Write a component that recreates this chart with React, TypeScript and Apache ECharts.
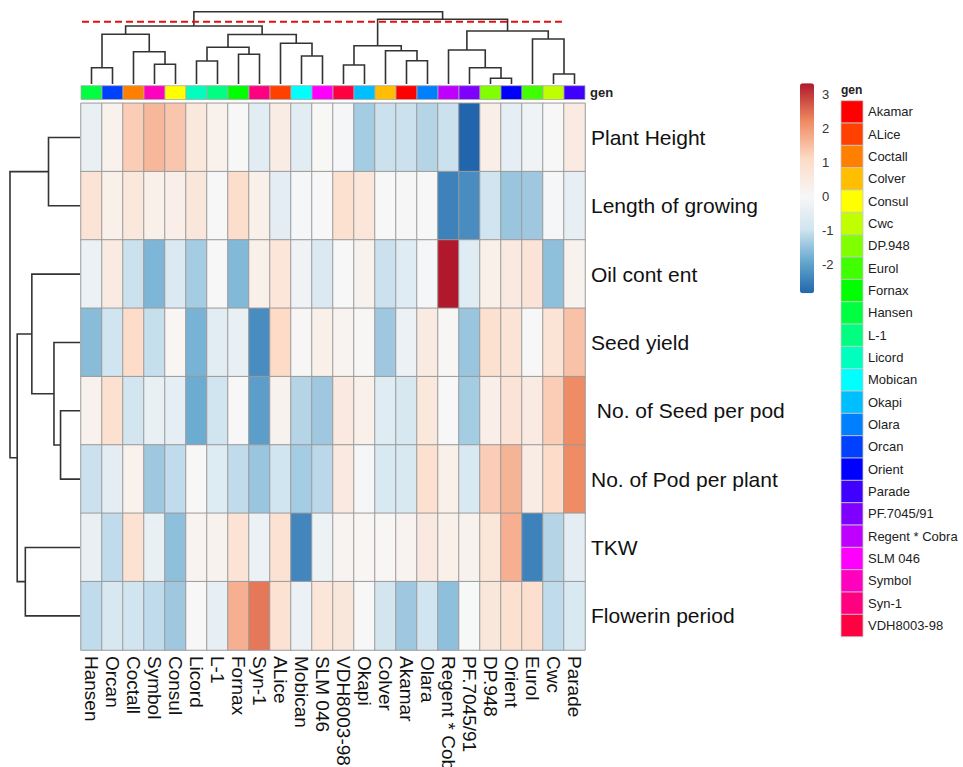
import React, { useEffect, useRef } from "react";
import * as echarts from "echarts";

// ---------- data ----------
const GENOTYPES = [
  "Hansen", "Orcan", "Coctall", "Symbol", "Consul", "Licord", "L-1", "Fornax",
  "Syn-1", "ALice", "Mobican", "SLM 046", "VDH8003-98", "Okapi", "Colver", "Akamar",
  "Olara", "Regent * Cobra", "PF.7045/91", "DP.948", "Orient", "Eurol", "Cwc", "Parade",
];
const TRAITS = [
  "Plant Height", "Length of growing", "Oil cont ent", "Seed yield",
  "\u00a0No. of Seed per pod", "No. of Pod per plant", "TKW", "Flowerin period",
];

const PLANT_HEIGHT = [-0.35, 0.25, 1.3, 1.6, 1.4, 0.6, 0.25, 0.0, -0.55, 0.45, -0.55, 0.02, -0.05, -1.35, -1.0, -1.0, -1.2, -1.0, -2.85, 0.35, -0.45, -0.2, 0.0, 0.5];
const LENGTH_OF_GROWING = [0.8, 0.3, 0.6, 0.3, 0.35, 0.65, 0.0, 1.0, 0.3, -0.5, -0.05, 0.0, 0.9, 0.7, 0.0, -0.03, 0.0, -2.45, -2.3, -0.95, -1.45, -1.4, -0.05, -0.4];
const OIL_CONTENT = [-0.3, 0.5, -1.0, -1.7, -0.7, -1.35, 0.0, -1.65, 0.3, 0.7, -0.2, -0.7, 0.0, 0.2, -1.0, -0.6, -0.05, 3.34, -0.6, 0.3, 0.55, 0.75, -1.55, 0.2];
const SEED_YIELD = [-1.6, -0.95, 1.05, -1.05, 0.1, -1.75, -0.55, -0.35, -2.3, 1.1, 0.05, 0.3, 0.15, 0.05, -1.4, -0.3, 0.5, 0.05, -1.45, 0.9, 0.8, 0.0, 0.8, 1.45];
const SEED_PER_POD = [0.25, 0.9, -0.9, -0.35, -0.45, -1.85, -0.95, 0.0, -2.05, 0.2, -1.2, -1.4, 0.55, 0.3, -0.6, -0.8, 0.6, 0.0, -1.35, 0.35, 0.75, 0.5, 1.3, 2.2];
const POD_PER_PLANT = [-1.0, -0.5, 0.25, -1.4, -1.1, 0.0, -0.65, -1.1, -1.45, -0.95, -1.35, -1.15, 0.55, -0.05, -0.75, -0.75, 0.9, 0.3, -0.75, 1.3, 1.65, 0.45, 1.05, 2.2];
const TKW = [-0.35, -1.1, 0.85, -0.35, -1.55, 0.15, 0.2, 0.8, -0.3, 0.85, -2.4, -0.25, 0.15, 0.1, 0.05, 0.15, 0.55, 0.3, 0.2, 0.7, 1.7, -2.45, -1.2, -0.5];
const FLOWERING = [-1.1, -0.8, -0.95, -1.1, -1.4, 0.0, -0.4, 1.7, 2.4, 0.85, -0.3, 0.7, 0.65, 0.0, -0.9, -1.4, -0.95, -1.55, -0.02, 0.65, 0.9, 0.95, -1.1, -0.75];

const ROW_VALUES = [PLANT_HEIGHT, LENGTH_OF_GROWING, OIL_CONTENT, SEED_YIELD, SEED_PER_POD, POD_PER_PLANT, TKW, FLOWERING];

// hclust-like merges: negative = leaf position (1-based), positive = earlier merge (1-based)
const COL_MERGES = [
  [-1, -2, 1.63], [-4, -5, 1.97], [-3, 2, 3.23], [1, 3, 4.97],
  [-6, -7, 2.3], [-8, -9, 2.97], [5, 6, 3.67], [-11, -12, 2.8],
  [-10, 8, 4.07], [7, 9, 4.95], [4, 10, 5.8], [-13, -14, 1.9],
  [-16, -17, 2.33], [-15, 13, 3.33], [12, 14, 3.83], [-20, -21, 0.57],
  [-19, 16, 1.63], [-18, 17, 3.4], [-23, -24, 1.0], [-22, 19, 4.5],
  [18, 20, 5.3], [15, 21, 6.47], [11, 22, 7.23],
];
const COL_TREE_MAX = 7.23;
const CUT_HEIGHT = 6.23;
const CUT_EXTENT = [-1.0, 22.9];

const ROW_MERGES = [
  [-5, -6, 2.78], [-4, 1, 3.72], [-3, 2, 6.88], [-7, -8, 7.81],
  [3, 4, 8.97], [-1, -2, 4.5], [6, 5, 10.0],
];
const ROW_TREE_MAX = 10;

const LEGEND_GEN = [
  "Akamar", "ALice", "Coctall", "Colver", "Consul", "Cwc", "DP.948", "Eurol",
  "Fornax", "Hansen", "L-1", "Licord", "Mobican", "Okapi", "Olara", "Orcan",
  "Orient", "Parade", "PF.7045/91", "Regent * Cobra", "SLM 046", "Symbol", "Syn-1", "VDH8003-98",
];
const LEGEND_COLORS = [
  "#FF0000", "#FF4000", "#FF8000", "#FFBF00", "#FFFF00", "#BFFF00", "#80FF00", "#40FF00",
  "#00FF00", "#00FF40", "#00FF80", "#00FFBF", "#00FFFF", "#00BFFF", "#0080FF", "#0040FF",
  "#0000FF", "#4000FF", "#8000FF", "#BF00FF", "#FF00FF", "#FF00BF", "#FF0080", "#FF0040",
];

const VMIN = -2.85;
const VMAX = 3.34;
const NEG_STOPS = ["#F7F7F7", "#D1E5F0", "#67A9CF", "#2166AC"];
const POS_STOPS = ["#F7F7F7", "#FDDBC7", "#EF8A62", "#B2182B"];

// ---------- helpers ----------
function hex(h: string) {
  return [parseInt(h.slice(1, 3), 16), parseInt(h.slice(3, 5), 16), parseInt(h.slice(5, 7), 16)];
}
function mix(a: string, b: string, t: number) {
  const A = hex(a), B = hex(b);
  const c = A.map((v, i) => Math.round(v + (B[i] - v) * t));
  return "rgb(" + c.join(",") + ")";
}
function colorAt(v: number) {
  const stops = v >= 0 ? POS_STOPS : NEG_STOPS;
  const ext = v >= 0 ? VMAX : VMIN;
  const t = Math.min(1, v / ext) * (stops.length - 1);
  const i = Math.min(stops.length - 2, Math.floor(t));
  return mix(stops[i], stops[i + 1], t - i);
}
const PALETTE = Array.from({ length: 125 }, (_, k) => colorAt(VMIN + ((VMAX - VMIN) * k) / 124));

function buildDendro(merges: number[][]) {
  const nodes: { p: number; h: number }[] = [];
  const segs: number[][][] = [];
  const get = (c: number) => (c < 0 ? { p: -c - 0.5, h: 0 } : nodes[c - 1]);
  merges.forEach(([a, b, h]) => {
    const L = get(a), R = get(b);
    nodes.push({ p: (L.p + R.p) / 2, h });
    segs.push([[L.p, L.h], [L.p, h], [R.p, h], [R.p, R.h]]);
  });
  return segs;
}
const COL_SEGS = buildDendro(COL_MERGES);
const ROW_SEGS = buildDendro(ROW_MERGES);

// ---------- layout ----------
const FONT = "'Liberation Sans', Arial, Helvetica, sans-serif";
const HM = { left: 81, top: 103.3, width: 504, height: 546.7 };
const CB = { left: 800, top: 83.3, width: 14, height: 210 };
const CB_PPU = CB.height / (VMAX - VMIN);
const TREE_COLOR = "#333333";

export default function App() {
  const ref = useRef<HTMLDivElement>(null);
  useEffect(() => {
    if (!ref.current) return;
    const chart = echarts.init(ref.current, undefined, { renderer: "svg" });
    const heatData: number[][] = [];
    ROW_VALUES.forEach((row, r) => row.forEach((v, c) => heatData.push([c, r, v])));

    const baseGrid = { containLabel: false, outerBoundsMode: "none" } as any;
    const hiddenAxis = { show: false };

    const option: any = {
      animation: false,
      backgroundColor: "#ffffff",
      textStyle: { fontFamily: FONT },
      grid: [
        { ...baseGrid, ...HM },
        { ...baseGrid, left: HM.left, width: HM.width, top: 85.7, height: 13.8 },
        { ...baseGrid, left: HM.left, width: HM.width, top: 11.7, height: 72.3 },
        { ...baseGrid, left: 10, width: 70, top: HM.top, height: HM.height },
        { ...baseGrid, left: 841, width: 22, top: 100.7, height: 536 },
        {
          ...baseGrid,
          left: CB.left,
          width: CB.width,
          top: CB.top - (4 - VMAX) * CB_PPU,
          height: 7 * CB_PPU,
        },
      ],
      xAxis: [
        {
          gridIndex: 0,
          type: "category",
          data: GENOTYPES,
          position: "bottom",
          axisLine: { show: false },
          axisTick: { show: false },
          splitLine: { show: false },
          axisLabel: { rotate: -90, interval: 0, fontSize: 19, color: "#111", margin: 6, hideOverlap: false },
        },
        { gridIndex: 1, type: "category", data: GENOTYPES, ...hiddenAxis },
        { gridIndex: 2, type: "value", min: 0, max: GENOTYPES.length, ...hiddenAxis },
        { gridIndex: 3, type: "value", min: 0, max: ROW_TREE_MAX, inverse: true, ...hiddenAxis },
        { gridIndex: 4, type: "value", min: 0, max: 1, ...hiddenAxis },
        { gridIndex: 5, type: "value", min: 0, max: 1, ...hiddenAxis },
      ],
      yAxis: [
        {
          gridIndex: 0,
          type: "category",
          data: TRAITS,
          inverse: true,
          position: "right",
          axisLine: { show: false },
          axisTick: { show: false },
          splitLine: { show: false },
          axisLabel: { fontSize: 21, color: "#111", margin: 6, interval: 0 },
        },
        {
          gridIndex: 1,
          type: "category",
          data: ["gen"],
          position: "right",
          axisLine: { show: false },
          axisTick: { show: false },
          axisLabel: { fontSize: 13, fontWeight: "bold", color: "#222", margin: 5 },
        },
        { gridIndex: 2, type: "value", min: 0, max: COL_TREE_MAX, ...hiddenAxis },
        { gridIndex: 3, type: "value", min: 0, max: TRAITS.length, inverse: true, ...hiddenAxis },
        {
          gridIndex: 4,
          type: "category",
          data: LEGEND_GEN,
          inverse: true,
          position: "right",
          axisLine: { show: false },
          axisTick: { show: false },
          splitLine: { show: false },
          axisLabel: { fontSize: 13, color: "#222", margin: 5, interval: 0 },
        },
        {
          gridIndex: 5,
          type: "value",
          min: -3,
          max: 4,
          interval: 1,
          position: "right",
          axisLine: { show: false },
          axisTick: { show: false },
          splitLine: { show: false },
          axisLabel: { fontSize: 13, color: "#333", margin: 8, showMinLabel: false, showMaxLabel: false },
        },
      ],
      visualMap: {
        type: "continuous",
        seriesIndex: 0,
        dimension: 2,
        min: VMIN,
        max: VMAX,
        orient: "vertical",
        left: CB.left,
        top: CB.top,
        itemWidth: CB.width,
        itemHeight: CB.height,
        padding: 0,
        calculable: false,
        hoverLink: false,
        text: null,
        inRange: { color: PALETTE },
      },
      graphic: [
        {
          type: "text",
          left: 841,
          top: 84,
          style: { text: "gen", font: "bold 12px " + FONT, fill: "#222" },
        },
      ],
      series: [
        {
          type: "heatmap",
          xAxisIndex: 0,
          yAxisIndex: 0,
          data: heatData,
          itemStyle: { borderColor: "#9a9a9a", borderWidth: 1 },
          emphasis: { disabled: true },
          silent: true,
        },
        {
          type: "custom",
          xAxisIndex: 1,
          yAxisIndex: 1,
          silent: true,
          data: GENOTYPES.map((g, i) => [i, 0]),
          renderItem: (params: any, api: any) => {
            const c = api.coord([api.value(0), api.value(1)]);
            const s = api.size([1, 1]);
            const name = GENOTYPES[params.dataIndex];
            return {
              type: "rect",
              shape: { x: c[0] - s[0] / 2, y: c[1] - s[1] / 2, width: s[0], height: s[1] },
              style: { fill: LEGEND_COLORS[LEGEND_GEN.indexOf(name)], stroke: "#aaaaaa", lineWidth: 0.8 },
            };
          },
        },
        {
          type: "custom",
          xAxisIndex: 2,
          yAxisIndex: 2,
          silent: true,
          data: COL_SEGS.map((_, i) => [i]),
          renderItem: (params: any, api: any) => ({
            type: "polyline",
            shape: { points: COL_SEGS[params.dataIndex].map(([p, h]) => api.coord([p, h])) },
            style: { stroke: TREE_COLOR, lineWidth: 1.6, fill: null },
          }),
        },
        {
          type: "line",
          xAxisIndex: 2,
          yAxisIndex: 2,
          silent: true,
          clip: false,
          symbol: "none",
          data: [[CUT_EXTENT[0], CUT_HEIGHT], [CUT_EXTENT[1], CUT_HEIGHT]],
          lineStyle: { color: "#e01010", width: 2, type: [7, 4] },
        },
        {
          type: "custom",
          xAxisIndex: 3,
          yAxisIndex: 3,
          silent: true,
          data: ROW_SEGS.map((_, i) => [i]),
          renderItem: (params: any, api: any) => ({
            type: "polyline",
            shape: { points: ROW_SEGS[params.dataIndex].map(([p, h]) => api.coord([h, p])) },
            style: { stroke: TREE_COLOR, lineWidth: 1.6, fill: null },
          }),
        },
        {
          type: "custom",
          xAxisIndex: 4,
          yAxisIndex: 4,
          silent: true,
          data: LEGEND_GEN.map((g, i) => [0.5, i]),
          renderItem: (params: any, api: any) => {
            const c = api.coord([api.value(0), api.value(1)]);
            const s = api.size([1, 1]);
            return {
              type: "rect",
              shape: { x: c[0] - s[0] / 2, y: c[1] - s[1] / 2, width: s[0], height: s[1] },
              style: { fill: LEGEND_COLORS[params.dataIndex], stroke: "#c8c8c8", lineWidth: 0.8 },
            };
          },
        },
      ],
    };
    chart.setOption(option);
    return () => chart.dispose();
  }, []);
  return (
    <div
      ref={ref}
      style={{ position: "fixed", left: 0, top: 0, width: 963, height: 767, background: "#fff" }}
    />
  );
}
